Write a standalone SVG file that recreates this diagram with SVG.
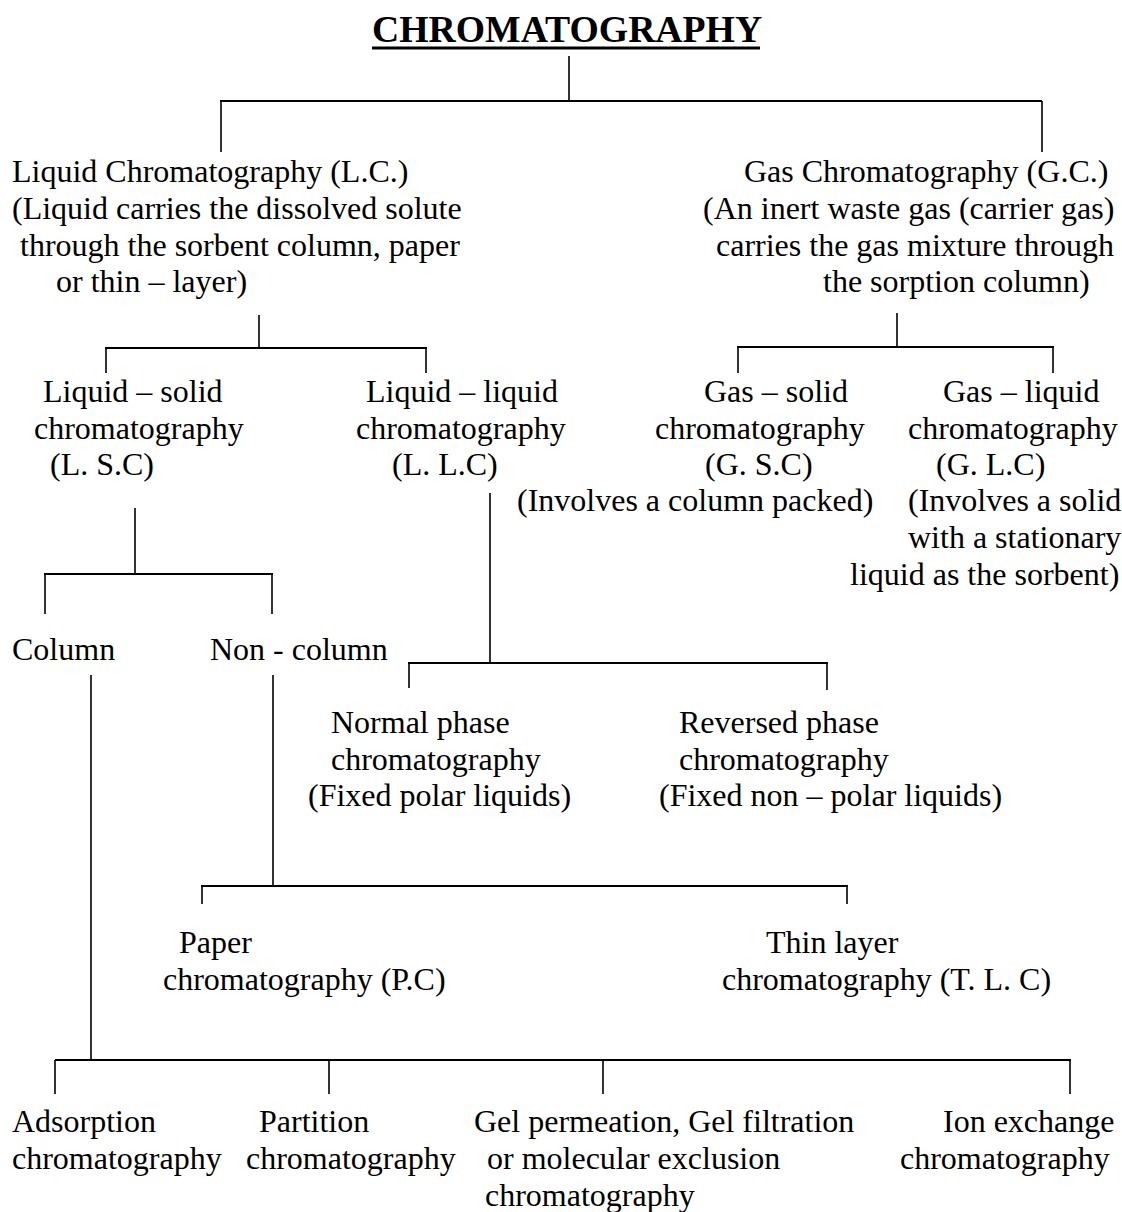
<svg xmlns="http://www.w3.org/2000/svg" width="1122" height="1212" viewBox="0 0 1122 1212">
<style>
text{font-family:"Liberation Serif","Times New Roman",serif;font-size:32px;fill:#000}
.title{font-weight:bold;font-size:37.7px}
.c line{stroke:#000;stroke-width:1.6}
.c .h{stroke-width:2}
</style>
<rect width="1122" height="1212" fill="#fff"/>
<g id="title">
<text class="title" x="372" y="42">CHROMATOGRAPHY</text>
<line x1="372" y1="48" x2="760" y2="48" stroke="#000" stroke-width="3"/>
</g>
<g class="c" id="connectors">
<line x1="569" y1="56" x2="569" y2="101"/>
<line class="h" x1="220" y1="101" x2="1042" y2="101"/>
<line x1="221" y1="101" x2="221" y2="152"/>
<line x1="1042" y1="101" x2="1042" y2="152"/>
<line x1="259" y1="315" x2="259" y2="348"/>
<line class="h" x1="105" y1="348" x2="427" y2="348"/>
<line x1="106" y1="348" x2="106" y2="373"/>
<line x1="426" y1="348" x2="426" y2="373"/>
<line x1="897" y1="313" x2="897" y2="347"/>
<line class="h" x1="737" y1="347" x2="1054" y2="347"/>
<line x1="738" y1="347" x2="738" y2="373"/>
<line x1="1053" y1="347" x2="1053" y2="373"/>
<line x1="135" y1="508" x2="135" y2="574"/>
<line class="h" x1="44" y1="574" x2="273" y2="574"/>
<line x1="45" y1="574" x2="45" y2="614"/>
<line x1="272" y1="574" x2="272" y2="614"/>
<line x1="490" y1="493" x2="490" y2="663"/>
<line class="h" x1="408" y1="663" x2="828" y2="663"/>
<line x1="409" y1="663" x2="409" y2="688"/>
<line x1="827" y1="663" x2="827" y2="690"/>
<line x1="273" y1="675" x2="273" y2="886"/>
<line class="h" x1="201" y1="886" x2="848" y2="886"/>
<line x1="202" y1="886" x2="202" y2="904"/>
<line x1="847" y1="886" x2="847" y2="904"/>
<line x1="91" y1="675" x2="91" y2="1060"/>
<line class="h" x1="55" y1="1060" x2="1071" y2="1060"/>
<line x1="55" y1="1060" x2="55" y2="1094"/>
<line x1="329" y1="1060" x2="329" y2="1094"/>
<line x1="603" y1="1060" x2="603" y2="1094"/>
<line x1="1070" y1="1060" x2="1070" y2="1094"/>
</g>
<g id="lc">
<text x="12" y="182">Liquid Chromatography (L.C.)</text>
<text x="12" y="219">(Liquid carries the dissolved solute</text>
<text x="20" y="256">through the sorbent column, paper</text>
<text x="56" y="292">or thin – layer)</text>
</g>
<g id="gc">
<text x="744" y="182">Gas Chromatography (G.C.)</text>
<text x="703" y="219">(An inert waste gas (carrier gas)</text>
<text x="716" y="256">carries the gas mixture through</text>
<text x="823" y="292">the sorption column)</text>
</g>
<g id="lsc">
<text x="43" y="402">Liquid – solid</text>
<text x="34" y="439">chromatography</text>
<text x="50" y="475">(L. S.C)</text>
</g>
<g id="llc">
<text x="366" y="402">Liquid – liquid</text>
<text x="356" y="439">chromatography</text>
<text x="392" y="475">(L. L.C)</text>
</g>
<g id="gsc">
<text x="704" y="402">Gas – solid</text>
<text x="655" y="439">chromatography</text>
<text x="705" y="475">(G. S.C)</text>
<text x="517" y="511">(Involves a column packed)</text>
</g>
<g id="glc">
<text x="943" y="402">Gas – liquid</text>
<text x="908" y="439">chromatography</text>
<text x="936" y="475">(G. L.C)</text>
<text x="908" y="511">(Involves a solid</text>
<text x="908" y="548">with a stationary</text>
<text x="850" y="585">liquid as the sorbent)</text>
</g>
<g id="column"><text x="12" y="660">Column</text></g>
<g id="noncolumn"><text x="210" y="660">Non - column</text></g>
<g id="normal">
<text x="331" y="733">Normal phase</text>
<text x="331" y="770">chromatography</text>
<text x="308" y="806">(Fixed polar liquids)</text>
</g>
<g id="reversed">
<text x="679" y="733">Reversed phase</text>
<text x="679" y="770">chromatography</text>
<text x="659" y="806">(Fixed non – polar liquids)</text>
</g>
<g id="paper">
<text x="179" y="953">Paper</text>
<text x="163" y="990">chromatography (P.C)</text>
</g>
<g id="tlc">
<text x="766" y="953">Thin layer</text>
<text x="722" y="990">chromatography (T. L. C)</text>
</g>
<g id="adsorption">
<text x="12" y="1132">Adsorption</text>
<text x="12" y="1169">chromatography</text>
</g>
<g id="partition">
<text x="259" y="1132">Partition</text>
<text x="246" y="1169">chromatography</text>
</g>
<g id="gel">
<text x="474" y="1132">Gel permeation, Gel filtration</text>
<text x="487" y="1169">or molecular exclusion</text>
<text x="485" y="1206">chromatography</text>
</g>
<g id="ion">
<text x="943" y="1132">Ion exchange</text>
<text x="900" y="1169">chromatography</text>
</g>
</svg>
